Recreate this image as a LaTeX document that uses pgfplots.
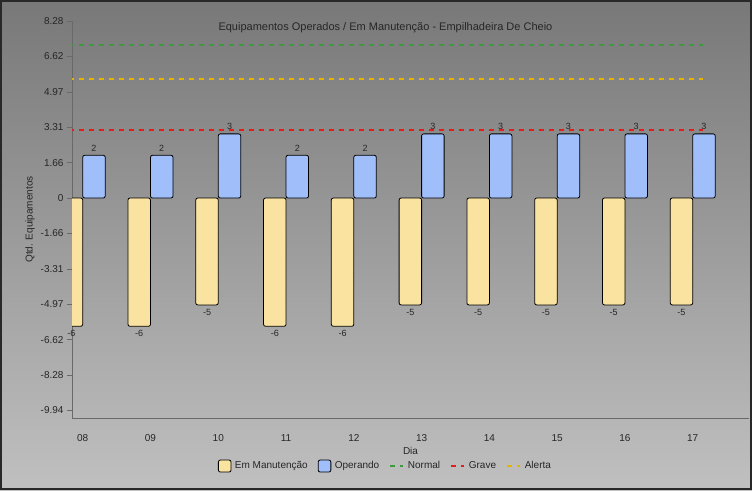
\documentclass[border=0pt]{standalone}
\usepackage{fontspec}
\setmainfont{Liberation Sans}
\usepackage{pgfplots}
\pgfplotsset{compat=1.18}

\definecolor{manut}{RGB}{250,226,160}
\definecolor{oper}{RGB}{160,190,250}
\definecolor{normalc}{RGB}{60,155,60}
\definecolor{gravec}{RGB}{225,30,30}
\definecolor{alertac}{RGB}{230,180,0}
\definecolor{axisgray}{RGB}{105,105,105}
\definecolor{bgtop}{RGB}{120,120,120}
\definecolor{bgbot}{RGB}{192,192,192}
\definecolor{frame}{RGB}{40,40,40}

\begin{document}
\begin{tikzpicture}
\shade[top color=bgtop, bottom color=bgbot] (0pt,0pt) rectangle (752pt,-490pt);
\draw[line width=2pt, frame] (1pt,-1pt) rectangle (751pt,-489pt);
\begin{axis}[
  at={(72pt,-418pt)}, anchor=south west,
  width=677pt, height=397pt, scale only axis,
  xmin=-0.158, xmax=9.83, ymin=-10.29, ymax=8.28,
  axis lines=left,
  axis line style={-, draw=axisgray, line width=0.8pt},
  xtick={0,...,9},
  xticklabels={08,09,10,11,12,13,14,15,16,17},
  xtick style={draw=none},
  xticklabel style={yshift=-8pt},
  ytick={-9.936,-8.28,-6.624,-4.968,-3.312,-1.656,0,1.656,3.312,4.968,6.624,8.28},
  yticklabels={-9.94,-8.28,-6.62,-4.97,-3.31,-1.66,0,1.66,3.31,4.97,6.62,8.28},
  ytick style={draw=axisgray, line width=0.6pt},
  tick align=outside, major tick length=5pt,
  tick label style={font=\fontsize{10}{12}\selectfont, text=black!85},
  /pgf/number format/assume math mode=true,
  xlabel={Dia},
  xlabel style={at={(axis description cs:0.5,-0.083)}, anchor=center,
    font=\fontsize{10}{12}\selectfont, text=black!85},
  ylabel={Qtd. Equipamentos},
  ylabel style={at={(axis description cs:-0.062,0.5)}, anchor=center,
    font=\fontsize{10}{12}\selectfont, text=black!85},
  legend columns=5,
  legend cell align=left,
  legend style={at={(axis description cs:0.463,-0.121)}, anchor=center,
    draw=none, fill=none, font=\fontsize{10}{12}\selectfont, text=black!85,
    /tikz/every odd column/.append style={column sep=1.5pt},
    /tikz/every even column/.append style={column sep=8pt}},
]
\addplot[ybar, bar width=22.5pt, bar shift=-11.25pt, fill=manut, draw=black,
  line width=0.8pt, rounded corners=2pt, nodes near coords,
  nodes near coords style={font=\fontsize{9}{10}\selectfont, text=black!85, inner sep=3.5pt, xshift=-11.25pt},
  legend image code/.code={\draw[fill=manut, draw=black, line width=0.8pt, rounded corners=2pt] (0pt,-6pt) rectangle (12.7pt,6pt);}]
  coordinates {(0,-6) (1,-6) (2,-5) (3,-6) (4,-6) (5,-5) (6,-5) (7,-5) (8,-5) (9,-5)};
\addlegendentry{Em Manutenção}
\addplot[ybar, bar width=22.5pt, bar shift=11.25pt, fill=oper, draw=black,
  line width=0.8pt, rounded corners=2pt, nodes near coords,
  nodes near coords style={font=\fontsize{9}{10}\selectfont, text=black!85, inner sep=3.5pt, xshift=11.25pt},
  legend image code/.code={\draw[fill=oper, draw=black, line width=0.8pt, rounded corners=2pt] (0pt,-6pt) rectangle (12.7pt,6pt);}]
  coordinates {(0,2) (1,2) (2,3) (3,2) (4,2) (5,3) (6,3) (7,3) (8,3) (9,3)};
\addlegendentry{Operando}
\addplot[normalc, line width=2.2pt, dash pattern=on 5pt off 5pt,
  legend image code/.code={\draw[normalc, line width=2.2pt, dash pattern=on 5pt off 5pt] (0pt,0pt) -- (13pt,0pt);}]
  coordinates {(-0.5,7.16) (9.15,7.16)};
\addlegendentry{Normal}
\addplot[gravec, line width=2.2pt, dash pattern=on 5pt off 5pt,
  legend image code/.code={\draw[gravec, line width=2.2pt, dash pattern=on 5pt off 5pt] (0pt,0pt) -- (13pt,0pt);}]
  coordinates {(-0.5,3.19) (9.15,3.19)};
\addlegendentry{Grave}
\addplot[alertac, line width=2.2pt, dash pattern=on 5pt off 5pt,
  legend image code/.code={\draw[alertac, line width=2.2pt, dash pattern=on 5pt off 5pt] (0pt,0pt) -- (13pt,0pt);}]
  coordinates {(-0.5,5.58) (9.15,5.58)};
\addlegendentry{Alerta}
\node[font=\fontsize{11}{13}\selectfont, text=black!85, anchor=center]
  at (axis description cs:0.463,0.982) {Equipamentos Operados / Em Manutenção - Empilhadeira De Cheio};
\end{axis}
\end{tikzpicture}
\end{document}
